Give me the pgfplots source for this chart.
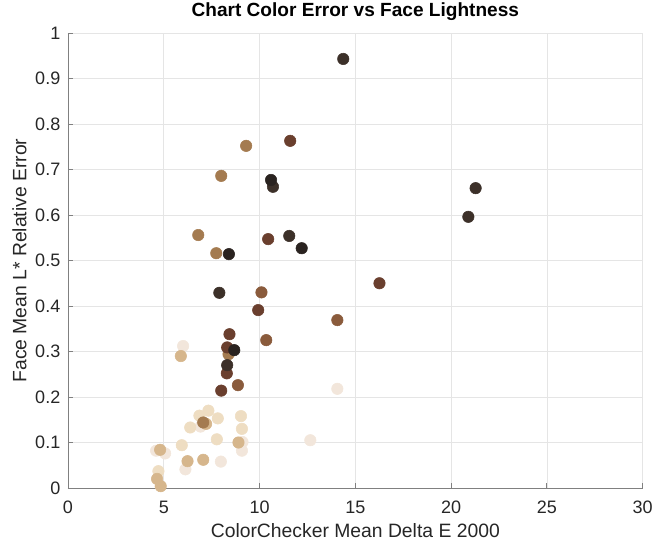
\documentclass[border=0pt]{standalone}
\usepackage{pgfplots}
\pgfplotsset{compat=1.18}
\usepackage{fontspec}
\setmainfont{Liberation Sans}
\definecolor{cDark}{HTML}{2A2320}
\definecolor{cDarkB}{HTML}{3C3029}
\definecolor{cBrown}{HTML}{6A3F2E}
\definecolor{cMid}{HTML}{8A5B3C}
\definecolor{cTan}{HTML}{A47B50}
\definecolor{cLTan}{HTML}{D6B68C}
\definecolor{cCream}{HTML}{EEDDC2}
\definecolor{cPale}{HTML}{F2E6DB}
\definecolor{axgray}{HTML}{262626}
\begin{document}
\begin{tikzpicture}
\path[use as bounding box] (-51pt,-42pt) rectangle (439.5pt,366pt);
\begin{axis}[
  at={(0,0)}, anchor=south west,
  scale only axis,
  width=431pt, height=341.25pt,
  xmin=0, xmax=30, ymin=0, ymax=1,
  xtick={0,5,...,30},
  ytick={0,0.1,...,1.0},
  yticklabels={0,0.1,0.2,0.3,0.4,0.5,0.6,0.7,0.8,0.9,1},
  axis lines=left,
  axis line style={-, color=black!50, line width=0.6pt},
  tick align=inside,
  major tick length=4pt,
  tick style={color=black!50, line width=0.6pt},
  grid=major,
  grid style={color=black!10, line width=0.5pt},
  ticklabel style={font=\fontsize{13.5}{15}\selectfont, color=axgray},
  xticklabel style={anchor=base, yshift=-18.75pt},
  yticklabel style={anchor=east, inner sep=0pt, xshift=-5.6pt},
  /pgf/number format/assume math mode=true,
  xlabel={ColorChecker Mean Delta E 2000},
  ylabel={Face Mean L* Relative Error},
  label style={font=\fontsize{14.5}{16}\selectfont, color=axgray},
  xlabel style={at={(axis description cs:0.5,-0.1077)}, anchor=base},
  ylabel style={at={(axis description cs:-0.0725,0.5)}, anchor=base},
  title={\textbf{Chart Color Error vs Face Lightness}},
  title style={font=\fontsize{14.3}{16}\selectfont, at={(axis description cs:0.5,1.0176)}, anchor=base},
  clip=false,
  every axis plot/.append style={only marks, mark=*, mark size=4.3pt},
]
% pale
\addplot[color=cPale] coordinates {(6.01,0.312) (6.92,0.135) (9.11,0.101) (9.08,0.082) (4.6,0.082) (5.07,0.076) (6.13,0.041) (7.98,0.058) (12.65,0.105) (14.06,0.218)};
% cream
\addplot[color=cCream] coordinates {(7.33,0.17) (7.82,0.153) (9.03,0.158) (6.86,0.159) (6.38,0.133) (9.08,0.13) (7.77,0.107) (5.94,0.094) (4.72,0.037)};
% light tan
\addplot[color=cLTan] coordinates {(5.89,0.29) (7.21,0.141) (8.9,0.1) (4.81,0.084) (6.24,0.059) (7.06,0.062) (4.65,0.02) (4.84,0.004)};
% tan
\addplot[color=cTan] coordinates {(9.3,0.752) (8.0,0.686) (6.8,0.556) (7.74,0.516) (8.38,0.294) (7.06,0.144)};
% mid brown
\addplot[color=cMid] coordinates {(10.1,0.43) (14.06,0.369) (10.35,0.325) (8.87,0.226)};
% brown
\addplot[color=cBrown] coordinates {(11.6,0.763) (10.45,0.547) (16.26,0.45) (9.93,0.391) (8.43,0.338) (8.31,0.309) (8.29,0.252) (8.0,0.214)};
% dark
\addplot[color=cDarkB] coordinates {(14.37,0.943) (21.28,0.659) (20.9,0.596) (10.7,0.662) (11.55,0.554) (7.9,0.429) (8.31,0.27)};
\addplot[color=cDark] coordinates {(10.6,0.677) (8.4,0.514) (12.2,0.527) (8.68,0.303)};
\end{axis}
\end{tikzpicture}
\end{document}
